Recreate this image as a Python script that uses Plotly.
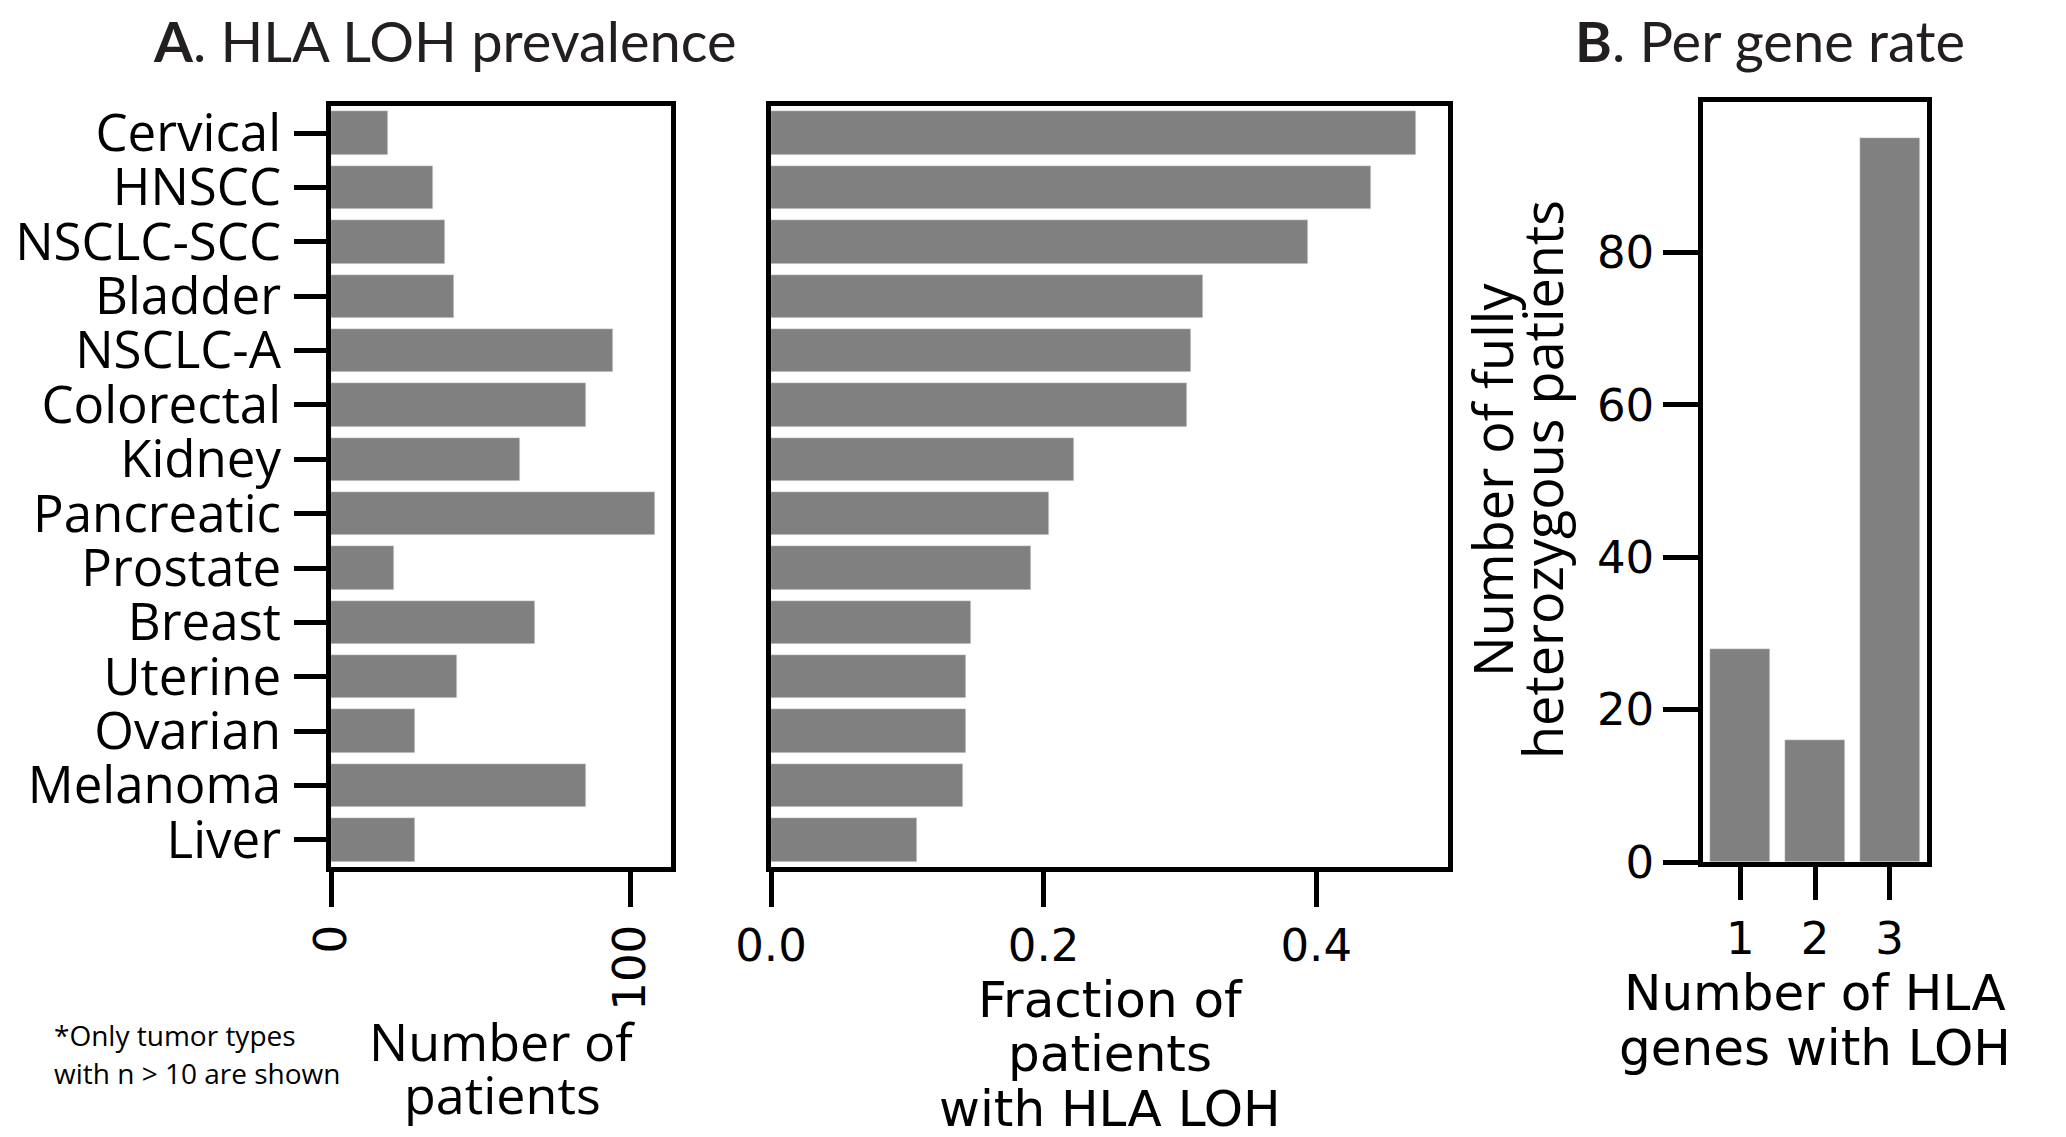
import plotly.graph_objects as go

# ---------------- data ----------------
categories = ["Cervical", "HNSCC", "NSCLC-SCC", "Bladder", "NSCLC-A", "Colorectal",
              "Kidney", "Pancreatic", "Prostate", "Breast", "Uterine", "Ovarian",
              "Melanoma", "Liver"]
n_patients = [19, 34, 38, 41, 94, 85, 63, 108, 21, 68, 42, 28, 85, 28]
fraction_loh = [0.473, 0.440, 0.394, 0.317, 0.308, 0.305, 0.222, 0.204, 0.191,
                0.147, 0.143, 0.143, 0.141, 0.107]
n_genes = [1, 2, 3]
n_hetero = [28, 16, 95]
x1_ticks = [0, 100]
x2_ticks = [0.0, 0.2, 0.4]
x2_ticklabels = ["0.0", "0.2", "0.4"]
y3_ticks = [0, 20, 40, 60, 80]

W, H = 2066, 1137
BAR = "#808080"
TICKF = dict(family="DejaVu Sans", size=45, color="black")
LW = 4.5
TL = 35


def px(x):
    return x / W


def py(y):
    return 1 - y / H


fig = go.Figure()
fig.add_trace(go.Bar(x=n_patients, y=categories, orientation="h", marker_color=BAR,
                     width=0.8, xaxis="x", yaxis="y", showlegend=False))
fig.add_trace(go.Bar(x=fraction_loh, y=categories, orientation="h", marker_color=BAR,
                     width=0.8, xaxis="x2", yaxis="y2", showlegend=False))
fig.add_trace(go.Bar(x=n_genes, y=n_hetero, marker_color=BAR, width=0.8,
                     xaxis="x3", yaxis="y3", showlegend=False))

common = dict(showline=True, linecolor="black", linewidth=LW, mirror=True,
              showgrid=False, zeroline=False, ticks="outside", ticklen=TL,
              tickwidth=LW, tickcolor="black", tickfont=TICKF, fixedrange=True,
              automargin=False, ticklabelstandoff=0)

cat_axis = dict(type="category", categoryorder="array", categoryarray=categories,
                range=[len(categories) - 0.5, -0.5], tickmode="array",
                tickvals=categories, ticktext=categories)

fig.update_layout(
    width=W, height=H, margin=dict(l=0, r=0, t=0, b=0, autoexpand=False),
    paper_bgcolor="white", plot_bgcolor="white", bargap=0,
    xaxis=dict(domain=[px(331), px(671)], anchor="y", range=[0, max(n_patients) * 1.05],
               tickvals=x1_ticks, tickangle=-90, **common),
    yaxis=dict(domain=[py(867), py(106)], anchor="x",
               **cat_axis, **{**common, "ticklen": 32, "ticklabelstandoff": 3,
                              "tickfont": dict(family="Open Sans", size=51, color="black")}),
    xaxis2=dict(domain=[px(771), px(1448)], anchor="y2", range=[0, max(fraction_loh) * 1.05],
                tickvals=x2_ticks, ticktext=x2_ticklabels, **common),
    yaxis2=dict(domain=[py(867), py(106)], anchor="x2", showticklabels=False,
                **cat_axis, **{**common, "ticks": ""}),
    xaxis3=dict(domain=[px(1703), px(1927)], anchor="y3", range=[0.5, 3.5],
                tickvals=n_genes, ticklen=33,
                **{k: v for k, v in common.items() if k != "ticklen"}),
    yaxis3=dict(domain=[py(862), py(102)], anchor="x3", range=[0, max(n_hetero) * 1.05],
                tickvals=y3_ticks, **common),
)


def ann(text, x, y, family, size, xanchor="center", angle=0, color="black"):
    fig.add_annotation(text=text, x=px(x), y=py(y), xref="paper", yref="paper",
                       xanchor=xanchor, yanchor="middle", showarrow=False,
                       textangle=angle, font=dict(family=family, size=size, color=color))


# panel titles
ann("<b>A</b>. HLA LOH prevalence", 151, 40, "Lato", 56, xanchor="left", color="#231f20")
ann("<b>B</b>. Per gene rate", 1573, 41, "Lato", 56, xanchor="left", color="#231f20")

# footnote
ann("*Only tumor types", 52, 1035, "Open Sans", 28, xanchor="left")
ann("with n > 10 are shown", 52, 1073, "Open Sans", 28, xanchor="left")

# panel 1 x title
ann("Number of", 502, 1040, "Open Sans", 52)
ann("patients", 502, 1093, "Open Sans", 52)

# panel 2 x title
ann("Fraction of", 1110, 1000, "DejaVu Sans", 50)
ann("patients", 1110, 1054, "DejaVu Sans", 50)
ann("with HLA LOH", 1110, 1109, "DejaVu Sans", 50)

# panel 3 x title
ann("Number of HLA", 1815, 993, "DejaVu Sans", 50)
ann("genes with LOH", 1815, 1048, "DejaVu Sans", 50)

# panel 3 y title
ann("Number of fully", 1492, 480, "Open Sans", 54, angle=-90)
ann("heterozygous patients", 1542, 480, "Open Sans", 54, angle=-90)

fig.write_html("out.html")
